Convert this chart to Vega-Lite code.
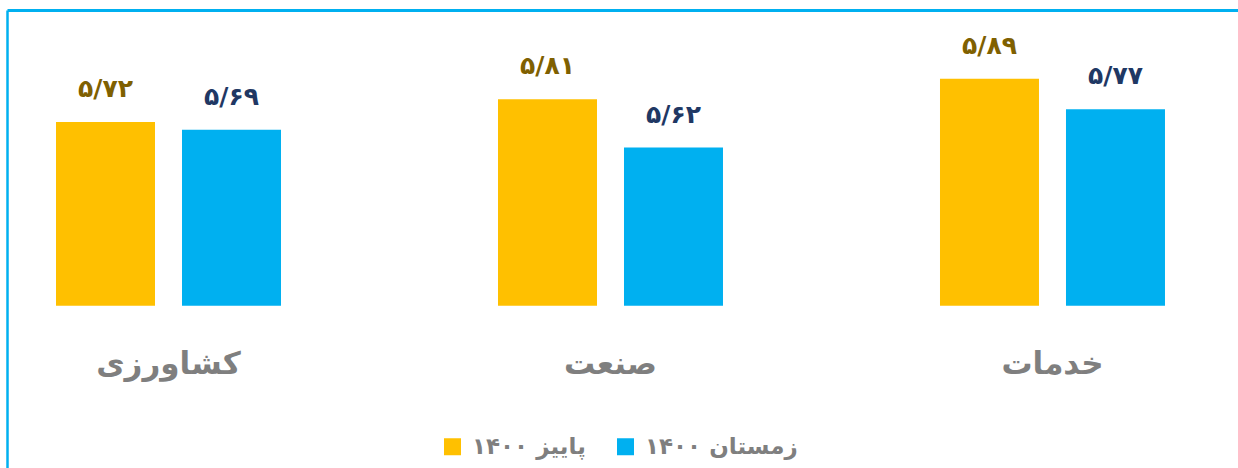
{
  "$schema": "https://vega.github.io/schema/vega-lite/v6.json",
  "width": 1231,
  "height": 458,
  "autosize": {"type": "none"},
  "padding": {"left": 7, "top": 10, "right": 0, "bottom": 0},
  "background": "white",
  "config": {"view": {"stroke": null}, "font": "DejaVu Sans"},
  "data": {
    "values": [
      {"sector": "کشاورزی", "season": "پاییز ۱۴۰۰", "value": 5.72, "label": "۵/۷۲"},
      {"sector": "کشاورزی", "season": "زمستان ۱۴۰۰", "value": 5.69, "label": "۵/۶۹"},
      {"sector": "صنعت", "season": "پاییز ۱۴۰۰", "value": 5.81, "label": "۵/۸۱"},
      {"sector": "صنعت", "season": "زمستان ۱۴۰۰", "value": 5.62, "label": "۵/۶۲"},
      {"sector": "خدمات", "season": "پاییز ۱۴۰۰", "value": 5.89, "label": "۵/۸۹"},
      {"sector": "خدمات", "season": "زمستان ۱۴۰۰", "value": 5.77, "label": "۵/۷۷"}
    ]
  },
  "layer": [
    {
      "mark": {"type": "bar"},
      "encoding": {
        "x": {
          "field": "sector", "type": "nominal",
          "sort": ["کشاورزی", "صنعت", "خدمات"],
          "scale": {"paddingInner": 0.49095, "paddingOuter": 0.13803, "align": 0.4016},
          "axis": {
            "orient": "bottom", "title": null, "domain": false, "ticks": false,
            "labelAngle": 0, "labelFontSize": 31, "labelFontWeight": "bold",
            "labelColor": "#7f7f7f", "labelFont": "DejaVu Sans",
            "labelPadding": 0, "labelBaseline": "middle", "offset": -104
          }
        },
        "xOffset": {
          "field": "season", "type": "nominal",
          "sort": ["پاییز ۱۴۰۰", "زمستان ۱۴۰۰"],
          "scale": {"paddingInner": 0.2143, "paddingOuter": 0}
        },
        "y": {
          "field": "value", "type": "quantitative",
          "scale": {"domain": [4.3635, 6.1596], "nice": false, "zero": false},
          "axis": {"orient": "left", "title": null, "labels": false, "ticks": false, "grid": false,
                   "domain": true, "domainColor": "#00B0F0", "domainWidth": 2.5}
        },
        "y2": {"datum": 5},
        "color": {
          "field": "season", "type": "nominal",
          "scale": {"domain": ["پاییز ۱۴۰۰", "زمستان ۱۴۰۰"], "range": ["#FFC000", "#00B0F0"]},
          "legend": {
            "orient": "none", "legendX": 434, "legendY": 425, "direction": "horizontal",
            "title": null, "symbolType": "square", "symbolSize": 289, "symbolStrokeWidth": 0,
            "labelFontSize": 23, "labelFontWeight": "bold", "labelColor": "#7f7f7f",
            "labelFont": "DejaVu Sans", "columnPadding": 28, "labelOffset": 8
          }
        }
      }
    },
    {
      "mark": {"type": "text", "baseline": "alphabetic", "dy": -25, "fontSize": 25, "fontWeight": "bold", "font": "DejaVu Sans"},
      "encoding": {
        "x": {
          "field": "sector", "type": "nominal",
          "sort": ["کشاورزی", "صنعت", "خدمات"],
          "axis": {"orient": "top", "title": null, "labels": false, "ticks": false, "grid": false,
                   "domain": true, "domainColor": "#00B0F0", "domainWidth": 3}
        },
        "xOffset": {
          "field": "season", "type": "nominal",
          "sort": ["پاییز ۱۴۰۰", "زمستان ۱۴۰۰"]
        },
        "y": {
          "field": "value", "type": "quantitative",
          "axis": {"orient": "left", "title": null, "labels": false, "ticks": false, "grid": false,
                   "domain": true, "domainColor": "#00B0F0", "domainWidth": 2.5}
        },
        "text": {"field": "label", "type": "nominal"},
        "color": {
          "condition": {"test": "datum.season === 'پاییز ۱۴۰۰'", "value": "#7F6000"},
          "value": "#1F3864"
        }
      }
    }
  ],
  "resolve": {"axis": {"x": "independent"}}
}
